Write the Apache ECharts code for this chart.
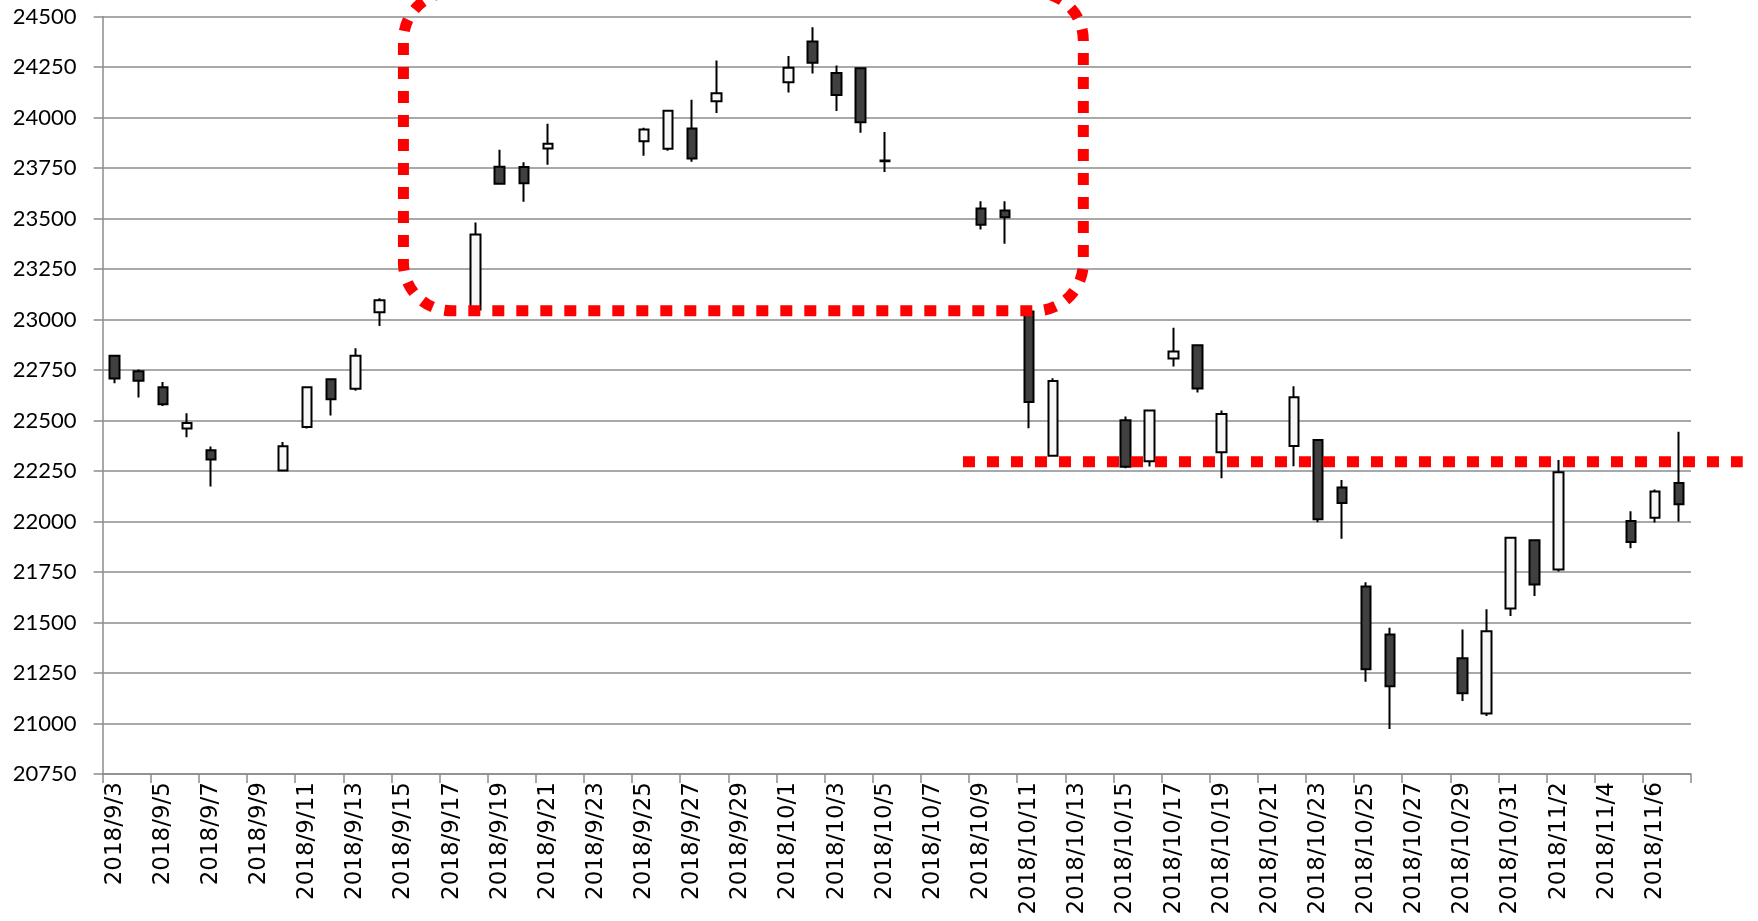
<!DOCTYPE html>
<html>
<head>
<meta charset="utf-8">
<script src="https://cdn.jsdelivr.net/npm/echarts@6/dist/echarts.min.js"></script>
<style>
html,body{margin:0;padding:0;background:#fff;}
#chart{width:1758px;height:921px;}
</style>
</head>
<body>
<div id="chart"></div>
<script>
// Categories (every calendar day; non-trading days are empty)
const dates = [
  '2018/9/3','2018/9/4','2018/9/5','2018/9/6','2018/9/7','2018/9/8','2018/9/9',
  '2018/9/10','2018/9/11','2018/9/12','2018/9/13','2018/9/14','2018/9/15','2018/9/16',
  '2018/9/17','2018/9/18','2018/9/19','2018/9/20','2018/9/21','2018/9/22','2018/9/23',
  '2018/9/24','2018/9/25','2018/9/26','2018/9/27','2018/9/28','2018/9/29','2018/9/30',
  '2018/10/1','2018/10/2','2018/10/3','2018/10/4','2018/10/5','2018/10/6','2018/10/7',
  '2018/10/8','2018/10/9','2018/10/10','2018/10/11','2018/10/12','2018/10/13','2018/10/14',
  '2018/10/15','2018/10/16','2018/10/17','2018/10/18','2018/10/19','2018/10/20','2018/10/21',
  '2018/10/22','2018/10/23','2018/10/24','2018/10/25','2018/10/26','2018/10/27','2018/10/28',
  '2018/10/29','2018/10/30','2018/10/31','2018/11/1','2018/11/2','2018/11/3','2018/11/4',
  '2018/11/5','2018/11/6','2018/11/7'
];
const opens = [
  22820,22744,22665,22460,22353,null,null,
  22252,22468,22704,22657,23036,null,null,
  null,23050,23756,23755,23847,null,null,
  null,23882,23845,23946,24080,null,null,
  24174,24376,24220,24244,23787,null,null,
  null,23550,23540,23040,22325,null,null,
  22501,22298,22807,22873,22343,null,null,
  22374,22404,22168,21678,21441,null,null,
  21323,21049,21569,21907,21762,null,null,
  22003,22018,22191
];
const closes = [
  22708,22697,22581,22488,22307,null,null,
  22373,22665,22605,22821,23095,null,null,
  null,23421,23672,23675,23870,null,null,
  null,23940,24034,23797,24120,null,null,
  24246,24271,24111,23976,23784,null,null,
  null,23469,23506,22591,22695,null,null,
  22271,22549,22841,22658,22532,null,null,
  22615,22011,22091,21269,21185,null,null,
  21150,21457,21920,21688,22244,null,null,
  21899,22148,22086
];
const lows = [
  22684,22614,22572,22417,22173,null,null,
  22250,22460,22525,22647,22968,null,null,
  null,23045,23670,23583,23766,null,null,
  null,23811,23835,23781,24022,null,null,
  24124,24218,24032,23925,23730,null,null,
  null,23445,23375,22462,22322,null,null,
  22264,22272,22767,22638,22214,null,null,
  22274,21996,21914,21207,20973,null,null,
  21111,21037,21532,21631,21753,null,null,
  21867,21995,22000
];
const highs = [
  22825,22752,22691,22536,22371,null,null,
  22394,22667,22708,22858,23105,null,null,
  null,23480,23840,23779,23969,null,null,
  null,23949,24036,24088,24282,null,null,
  24304,24447,24258,24246,23928,null,null,
  null,23585,23586,23045,22709,null,null,
  22520,22551,22959,22875,22549,null,null,
  22670,22407,22206,21699,21474,null,null,
  21465,21565,21922,21909,22305,null,null,
  22051,22158,22444
];
// Y-axis tick settings
const yMin = 20750, yMax = 24500, yStep = 250;
// Annotation anchors (category index, value)
const boxLeftIdx = 12, boxRightIdx = 40.25, boxTopVal = 24620, boxBottomVal = 23043;
const supportVal = 22296, supportStartIdx = 35.25, supportEndIdx = 67.65;

const candleData = dates.map((d, i) =>
  opens[i] == null ? ['-', '-', '-', '-'] : [opens[i], closes[i], lows[i], highs[i]]
);

const chart = echarts.init(document.getElementById('chart'));
const option = {
  backgroundColor: '#ffffff',
  animation: false,
  grid: { left: 102.6, right: 67, top: 16.5, bottom: 147, containLabel: false },
  xAxis: {
    type: 'category',
    data: dates,
    boundaryGap: true,
    axisLine: { show: true, lineStyle: { color: '#8c8c8c', width: 1.5 } },
    axisTick: { show: true, interval: 1, length: 9, lineStyle: { color: '#8c8c8c', width: 1.5 } },
    axisLabel: {
      interval: 1, rotate: 90, margin: 8,
      color: '#000', fontFamily: 'DejaVu Sans', fontSize: 23
    },
    splitLine: { show: false }
  },
  yAxis: {
    type: 'value',
    min: yMin, max: yMax, interval: yStep,
    axisLine: { show: true, lineStyle: { color: '#8c8c8c', width: 1.5 } },
    axisTick: { show: true, length: 9, lineStyle: { color: '#8c8c8c', width: 1.5 } },
    axisLabel: { color: '#000', fontFamily: 'Lato', fontSize: 22, margin: 26,
      formatter: v => String(v) },
    splitLine: { show: true, lineStyle: { color: '#8c8c8c', width: 1.5 } }
  },
  series: [{
    type: 'candlestick',
    data: candleData,
    barWidth: 10,
    itemStyle: {
      color: '#f7f7f7', color0: '#404040',
      borderColor: '#000', borderColor0: '#000', borderWidth: 2
    }
  }]
};
chart.setOption(option);

function X(idx, v) {
  const p0 = chart.convertToPixel({ gridIndex: 0 }, [0, v]);
  const p1 = chart.convertToPixel({ gridIndex: 0 }, [1, v]);
  return p0[0] + (p1[0] - p0[0]) * idx;
}
function Y(v) {
  return chart.convertToPixel({ gridIndex: 0 }, [0, v])[1];
}
const bx = X(boxLeftIdx, yMin), bx2 = X(boxRightIdx, yMin);
const by = Y(boxTopVal), by2 = Y(boxBottomVal);
const sy = Y(supportVal);
const redStyle = { fill: null, stroke: '#ff0000', lineWidth: 11, lineDash: [12, 12], lineCap: 'butt' };
chart.setOption({
  graphic: [
    { type: 'rect', z: 100, silent: true,
      shape: { x: bx, y: by, width: bx2 - bx, height: by2 - by, r: 48 },
      style: redStyle },
    { type: 'line', z: 100, silent: true,
      shape: { x1: X(supportStartIdx, yMin), y1: sy, x2: X(supportEndIdx, yMin), y2: sy },
      style: redStyle }
  ]
});
</script>
</body>
</html>
